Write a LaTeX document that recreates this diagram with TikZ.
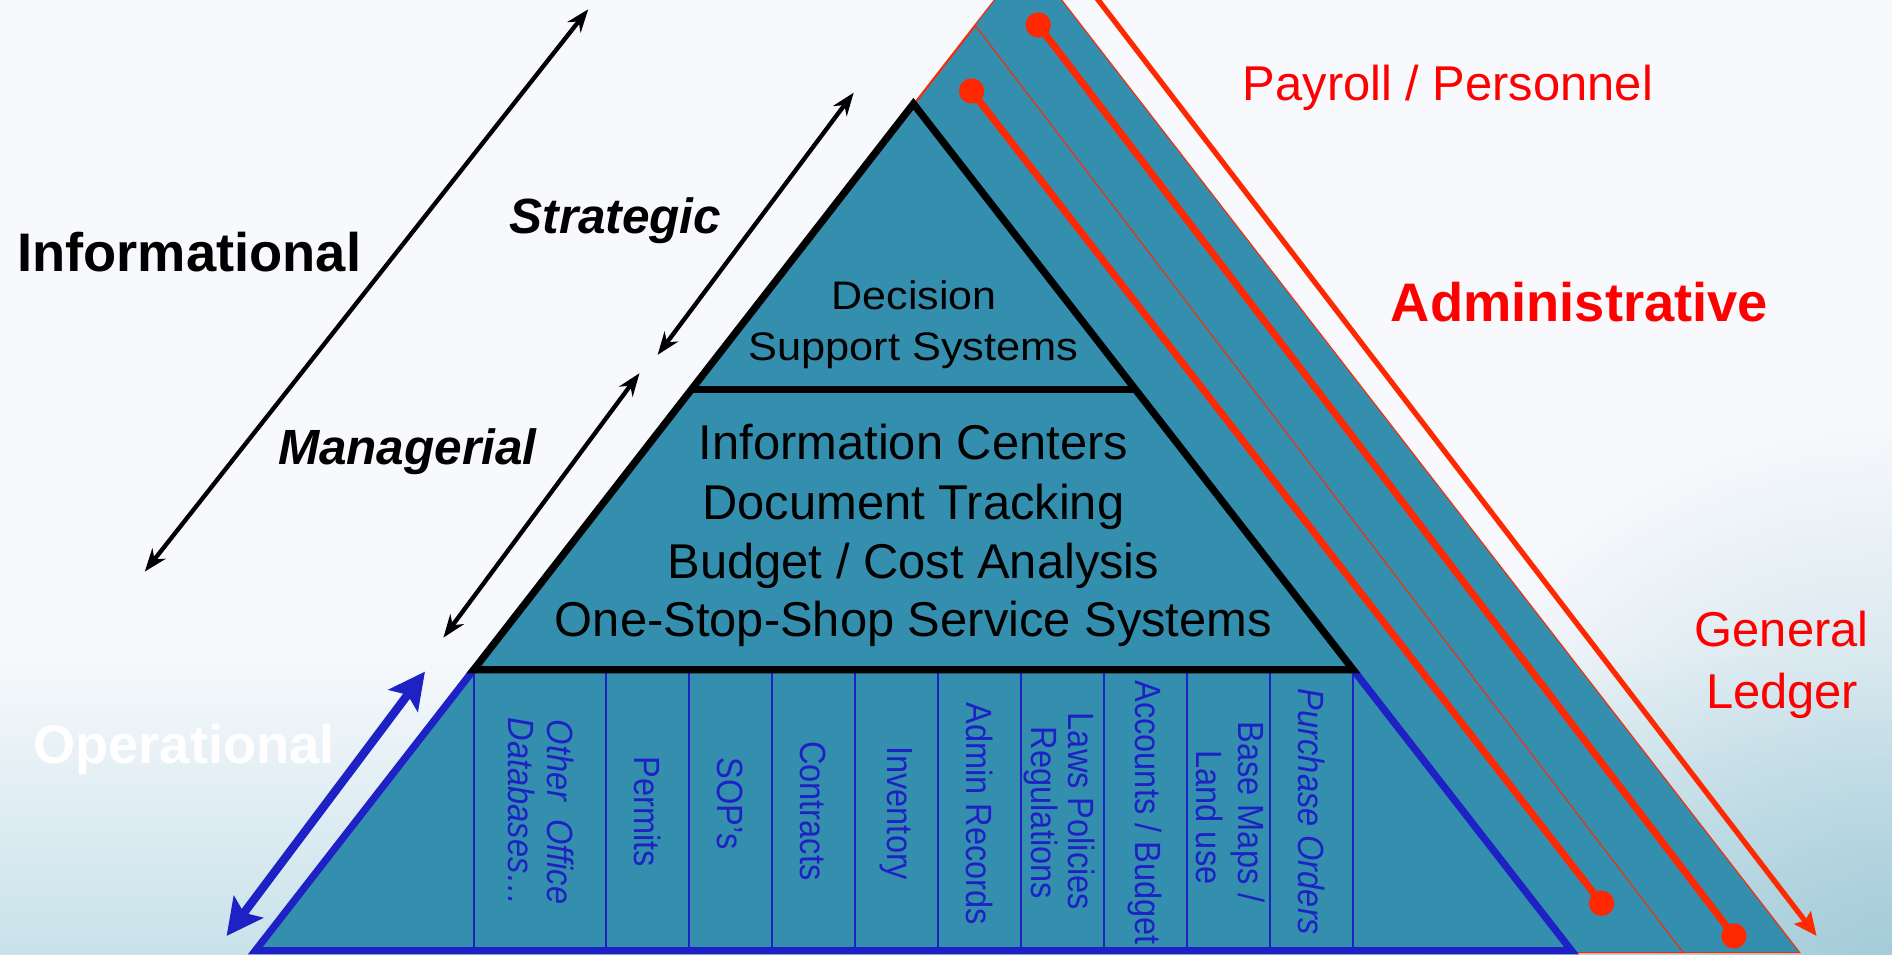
\documentclass[tikz,border=0pt]{standalone}
\usepackage{fontspec}
\setmainfont{Liberation Sans}
\usepackage{graphicx}
\usetikzlibrary{arrows.meta,fadings}
\definecolor{teal1}{RGB}{52,142,174}
\definecolor{blueC}{RGB}{30,34,196}
\definecolor{redL}{RGB}{255,40,0}
\definecolor{redT}{RGB}{255,0,0}
\definecolor{bgTop}{RGB}{247,249,252}
\definecolor{bgBot}{RGB}{200,226,234}
\definecolor{bgDark}{RGB}{140,190,206}
\newcommand\fsz[1]{\fontsize{#1}{#1}\selectfont}
\tikzfading[name=softglow, inner color=transparent!0, outer color=transparent!100]
\tikzset{
  lbl/.style={inner sep=0pt, anchor=base},
  layer/.style={fill=teal1, draw=redL, line width=0.9pt, line join=miter},
  redline/.style={draw=redL, line width=5.8pt},
  blackarrow/.style={draw=black, line width=3.6pt, {Stealth[length=19pt,width=14pt]}-{Stealth[length=19pt,width=14pt]}},
  bluearrow/.style={draw=blueC, line width=7pt, {Stealth[length=30pt,width=30pt,inset=6pt]}-{Stealth[length=30pt,width=30pt,inset=6pt]}},
  redarrow/.style={draw=redL, line width=4.4pt, -{Stealth[length=19pt,width=17pt,inset=3pt]}},
  coltext/.style={inner sep=0pt, rotate=-90, text=blueC, font=\fsz{27}},
  colline/.style={draw=blueC, line width=1.6pt},
}
\begin{document}
\begin{tikzpicture}[x=1pt,y=-1pt]
\useasboundingbox (0,0) rectangle (1568,791);
\clip (0,0) rectangle (1568,791);
% background
\fill[bgTop] (0,0) rectangle (1568,791);
\shade[top color=bgTop, bottom color=bgBot] (0,540) rectangle (1568,791);
\fill[bgDark, path fading=softglow, opacity=0.6] (1568,791) circle (440pt);

% back layers
\coordinate (Bapex) at (852,-36);
\coordinate (Bright) at (1491.6,789.5);
\coordinate (Aapex) at (808.5,21.3);
\coordinate (Aright) at (1395,789.5);
\coordinate (Lbot) at (210.4,789.5);
\filldraw[layer] (Bapex) -- (Bright) -- (Lbot) -- cycle;
\filldraw[layer] (Aapex) -- (Aright) -- (Lbot) -- cycle;

% red lines with dots
\coordinate (d1s) at (860.4,20.7);
\coordinate (d1e) at (1437,775.7);
\coordinate (d2s) at (805.2,75.4);
\coordinate (d2e) at (1327.3,748.6);
\draw[redline] (d1s) -- (d1e);
\draw[redline] (d2s) -- (d2e);
\fill[redL] (d1s) circle (10.5pt) (d1e) circle (10.5pt) (d2s) circle (10.5pt) (d2e) circle (10.5pt);

% red arrow
\coordinate (r1) at (904,-8);
\coordinate (r2) at (1505.5,775.7);
\draw[redarrow] (r1) -- (r2);

% main pyramid
\coordinate (P) at (757,86);
\coordinate (L323) at (572.9,323);
\coordinate (R323) at (941.1,323);
\coordinate (L555) at (392.6,555);
\coordinate (R555) at (1121.4,555);
\coordinate (L788) at (211.5,788);
\coordinate (R788) at (1302.5,788);
\fill[teal1] (L555) -- (R555) -- (R788) -- (L788) -- cycle;
\draw[colline] (L555) -- (R555);
\foreach \cx [count=\i] in {392.6,502,570.8,639.6,708.4,777.2,846,914.8,983.6,1052.4,1121.2}{
  \coordinate (ct\i) at (\cx,555);
  \coordinate (cb\i) at (\cx,788);
  \draw[colline] (ct\i) -- (cb\i);
}
\draw[blueC, line width=6pt, line join=miter] (L555) -- (L788) -- (R788) -- (R555);
\filldraw[fill=teal1, draw=black, line width=6pt, line join=miter] (P) -- (R555) -- (L555) -- cycle;
\draw[black, line width=6pt] (L323) -- (R323);

% pyramid texts
\node[lbl, font=\fsz{33}] (dss1) at (757.5,256.3) {\scalebox{1.08}[1]{Decision}};
\node[lbl, font=\fsz{33}] (dss2) at (757,298.9) {\scalebox{1.09}[1]{Support Systems}};
\node[lbl, font=\fsz{40.5}] (mid1) at (757,380.6) {Information Centers};
\node[lbl, font=\fsz{40.5}] (mid2) at (757,430.9) {Document Tracking};
\node[lbl, font=\fsz{40.5}] (mid3) at (757,479.3) {Budget / Cost Analysis};
\node[lbl, font=\fsz{40.5}] (mid4) at (757,527.6) {One-Stop-Shop Service Systems};

% column texts
\node[coltext] (c1a) at (464.5,673) {\scalebox{1}[1.12]{\itshape Other\ \ Office}};
\node[coltext] (c1b) at (432.5,673) {\scalebox{1}[1.12]{\itshape Databases…}};
\node[coltext] (c2) at (536.4,673) {\scalebox{1}[1.12]{Permits}};
\node[coltext] (c3) at (605.2,666) {\scalebox{1}[1.12]{SOP’s}};
\node[coltext] (c4) at (674,672) {\scalebox{1}[1.12]{Contracts}};
\node[coltext] (c5) at (742.8,674) {\scalebox{1}[1.12]{Inventory}};
\node[coltext] (c6) at (811.6,674.5) {\scalebox{1}[1.12]{Admin Records}};
\node[coltext] (c7a) at (896.5,672.5) {\scalebox{1}[1.12]{Laws Policies}};
\node[coltext] (c7b) at (862.5,673.7) {\scalebox{1}[1.12]{Regulations}};
\node[coltext] (c8) at (949.2,673.5) {\scalebox{1}[1.12]{Accounts / Budget}};
\node[coltext] (c9a) at (1034,673) {\scalebox{1}[1.12]{Base Maps /}};
\node[coltext] (c9b) at (1002,677.5) {\scalebox{1}[1.12]{Land use}};
\node[coltext] (c10) at (1086.8,673) {\scalebox{1}[1.12]{\itshape Purchase Orders}};

% left arrows
\coordinate (inf1) at (120,473.7);
\coordinate (inf2) at (487.5,7.7);
\coordinate (str1) at (545,294.1);
\coordinate (str2) at (707.5,76.8);
\coordinate (man1) at (367.5,528.4);
\coordinate (man2) at (530,309.3);
\coordinate (op1) at (187.8,775.7);
\coordinate (op2) at (352.2,556.6);
\draw[blackarrow] (inf1) -- (inf2);
\draw[blackarrow] (str1) -- (str2);
\draw[blackarrow] (man1) -- (man2);
\draw[bluearrow] (op1) -- (op2);

% left labels
\node[lbl, font=\fsz{45}\bfseries] (tinf) at (156.8,224.6) {Informational};
\node[lbl, font=\fsz{41}\bfseries\itshape] (tstr) at (510,193.3) {Strategic};
\node[lbl, font=\fsz{41}\bfseries\itshape] (tman) at (337.5,385.3) {Managerial};
\node[lbl, font=\fsz{45}\bfseries, text=white] (top) at (152.5,632.6) {Operational};

% right labels
\node[lbl, font=\fsz{40.5}, text=redT] (tpay) at (1200,83.4) {Payroll / Personnel};
\node[lbl, font=\fsz{45}\bfseries, text=redT] (tadm) at (1309,266.5) {Administrative};
\node[lbl, font=\fsz{40.5}, text=redT] (tgen1) at (1476.5,535.9) {General};
\node[lbl, font=\fsz{40.5}, text=redT] (tgen2) at (1477,587) {Ledger};
\end{tikzpicture}
\end{document}
